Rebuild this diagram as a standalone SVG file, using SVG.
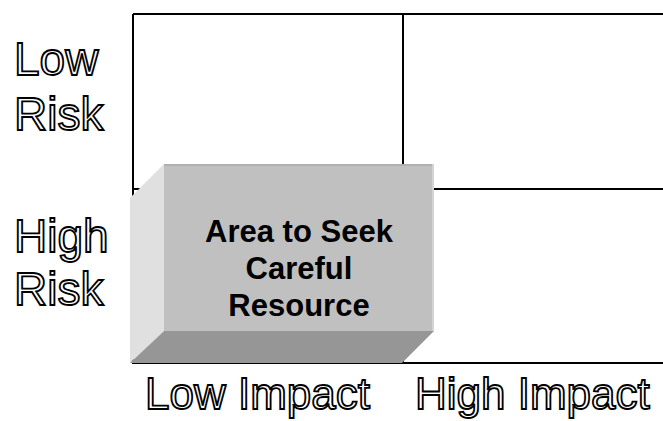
<svg xmlns="http://www.w3.org/2000/svg" width="663" height="421" viewBox="0 0 663 421">
<style>
.grid{stroke:#000;stroke-width:2;fill:none}
.axis{font-family:"Liberation Sans",Arial,sans-serif;font-size:44px;fill:#fff;stroke:#000;stroke-width:1.8}
.side{font-size:46px}
.box{font-family:"Liberation Sans",Arial,sans-serif;font-size:31px;font-weight:bold;fill:#000;text-anchor:middle}
</style>
<rect width="663" height="421" fill="#fff"/>
<g id="connectors">
<path class="grid" d="M133 14H664M133 14V363H664M403 14V363M133 189H664"/>
</g>
<g id="labels-risk">
<text class="axis side" x="14" y="75">Low</text>
<text class="axis side" x="14" y="130">Risk</text>
<text class="axis side" x="14" y="252">High</text>
<text class="axis side" x="14" y="305">Risk</text>
</g>
<g id="labels-impact">
<text class="axis" x="145" y="409">Low Impact</text>
<text class="axis" x="415" y="409">High Impact</text>
</g>
<g id="careful-box">
<polygon points="130,198 164,164 164,331 130,363" fill="#e0e0e0"/>
<polygon points="164,331 434,331 402,363 130,363" fill="#969696"/>
<rect x="164" y="164" width="270" height="167" fill="#c0c0c0"/>
<rect x="164" y="164" width="270" height="2" fill="#b0b0b0"/>
<rect x="432" y="164" width="2" height="167" fill="#d4d4d4"/>
<text class="box" x="299" y="242">Area to Seek</text>
<text class="box" x="299" y="279">Careful</text>
<text class="box" x="299" y="316">Resource</text>
</g>
</svg>
